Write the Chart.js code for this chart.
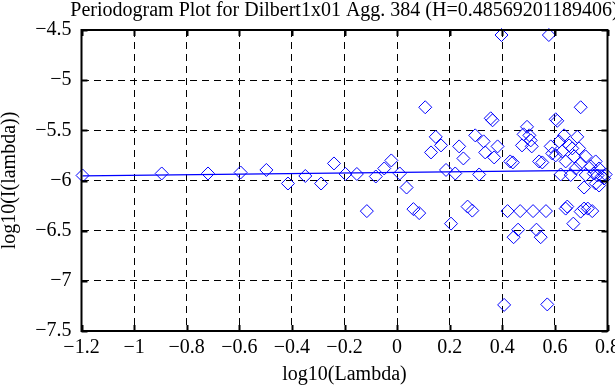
<!DOCTYPE html>
<html>
<head>
<meta charset="utf-8">
<script src="https://cdn.jsdelivr.net/npm/chart.js@4/dist/chart.umd.min.js"></script>
<style>
  body { margin: 0; background: #fff; }
  canvas { display: block; }
</style>
</head>
<body>
<canvas id="pgram" width="615" height="385"></canvas>
<script>
// log10 of frequency vs log10 of periodogram
var logLambda = [
  -1.196, -0.895, -0.719, -0.595, -0.497, -0.415, -0.349, -0.289, -0.240, -0.196,
  -0.153, -0.115, -0.081, -0.049, -0.022, 0.010, 0.036, 0.062, 0.084, 0.107,
  0.129, 0.147, 0.167, 0.186, 0.205, 0.221, 0.236, 0.252, 0.268, 0.286,
  0.297, 0.312, 0.329, 0.335, 0.356, 0.363, 0.369, 0.382, 0.397, 0.407,
  0.420, 0.430, 0.440, 0.443, 0.460, 0.468, 0.475, 0.481, 0.494, 0.503,
  0.508, 0.517, 0.512, 0.530, 0.540, 0.546, 0.552, 0.566, 0.571, 0.577,
  0.584, 0.590, 0.603, 0.609, 0.603, 0.616, 0.622, 0.628, 0.635, 0.641,
  0.641, 0.647, 0.654, 0.660, 0.666, 0.670, 0.673, 0.679, 0.685, 0.692,
  0.698, 0.698, 0.698, 0.711, 0.711, 0.717, 0.717, 0.725, 0.736, 0.742,
  0.748, 0.755, 0.755, 0.762, 0.768, 0.768, 0.778, 0.787, 0.793
];
var logI = [
  -5.95, -5.93, -5.93, -5.92, -5.895, -6.03, -5.955, -6.03, -5.83, -5.935,
  -5.935, -6.305, -5.96, -5.88, -5.80, -5.93, -6.07, -6.285, -6.325, -5.27,
  -5.72, -5.565, -5.65, -5.895, -6.43, -5.93, -5.66, -5.78, -6.26, -6.30,
  -5.55, -5.94, -5.61, -5.72, -5.38, -5.40, -5.77, -5.66, -4.55, -7.24,
  -6.305, -5.81, -5.82, -6.565, -6.49, -6.305, -5.65, -5.54, -5.465, -5.55,
  -5.60, -6.305, -5.66, -6.49, -5.81, -6.565, -5.82, -6.305, -7.235, -4.55,
  -5.66, -5.73, -5.39, -5.405, -5.75, -5.61, -5.94, -5.71, -5.55, -5.81,
  -6.28, -6.26, -5.65, -5.945, -5.68, -6.43, -5.76, -5.88, -5.565, -5.68,
  -5.27, -5.83, -6.31, -6.28, -6.07, -5.76, -5.945, -6.28, -5.86, -6.305,
  -5.93, -5.81, -6.03, -5.95, -5.88, -6.05, -5.96, -5.98, -5.94
];
// fitted line (slope = 1 - 2H)
var fitX = [-1.196, 0.795];
var fitY = [-5.953, -5.896];

var titleText = 'Periodogram Plot for Dilbert1x01 Agg. 384 (H=0.48569201189406)';
var serif = '"Liberation Serif", "DejaVu Serif", serif';
var blue = '#0000ff';

function fmt(v) {
  var r = Math.round(v * 10) / 10;
  return (r < 0 ? '\u2212' : '') + Math.abs(r);
}

var framePlugin = {
  id: 'frame',
  afterDraw: function(chart) {
    var ctx = chart.ctx, a = chart.chartArea;
    ctx.save();
    ctx.strokeStyle = '#000';
    ctx.lineWidth = 2;
    // inward tick marks
    var xs = chart.scales.x, ys = chart.scales.y;
    xs.ticks.forEach(function(t) {
      var px = Math.round(xs.getPixelForValue(t.value)) + 0.5;
      ctx.beginPath();
      ctx.moveTo(px, a.bottom); ctx.lineTo(px, a.bottom - 6);
      ctx.moveTo(px, a.top); ctx.lineTo(px, a.top + 6);
      ctx.stroke();
    });
    ys.ticks.forEach(function(t) {
      var py = Math.round(ys.getPixelForValue(t.value)) + 0.5;
      ctx.beginPath();
      ctx.moveTo(a.left, py); ctx.lineTo(a.left + 6, py);
      ctx.moveTo(a.right, py); ctx.lineTo(a.right - 6, py);
      ctx.stroke();
    });
    ctx.strokeRect(a.left, a.top, a.right - a.left, a.bottom - a.top);
    // title, centred on the plot box
    ctx.fillStyle = '#000';
    ctx.font = '20px ' + serif;
    ctx.textAlign = 'center';
    ctx.textBaseline = 'middle';
    ctx.fillText(titleText, (a.left + a.right) / 2, 11);
    ctx.restore();
  }
};

var points = logLambda.map(function(x, i) { return {x: x, y: logI[i]}; });
var fitLine = fitX.map(function(x, i) { return {x: x, y: fitY[i]}; });

new Chart(document.getElementById('pgram'), {
  type: 'scatter',
  data: {
    datasets: [{
      data: points,
      pointStyle: 'rectRot',
      pointRadius: 6.5,
      borderColor: blue,
      backgroundColor: 'rgba(0,0,0,0)',
      pointBorderWidth: 1,
      clip: false
    }, {
      type: 'line',
      data: fitLine,
      borderColor: blue,
      borderWidth: 1.3,
      pointRadius: 0,
      fill: false
    }]
  },
  options: {
    responsive: false,
    animation: false,
    layout: { padding: { top: 30, right: 7, left: 0, bottom: 0 } },
    plugins: { legend: { display: false }, tooltip: { enabled: false } },
    scales: {
      x: {
        type: 'linear', min: -1.2, max: 0.8,
        afterFit: function(s) { s.height = 54; s.paddingRight = 0; s.paddingLeft = 0; },
        ticks: { stepSize: 0.2, callback: fmt, color: '#000', padding: 5, maxRotation: 0, autoSkip: false,
                 font: { family: serif, size: 20 } },
        grid: { color: '#000', lineWidth: 1, drawTicks: false },
        border: { display: false, dash: [7, 5] },
        title: { display: true, text: 'log10(Lambda)', color: '#000', padding: 0,
                 font: { family: serif, size: 20, lineHeight: 1 } }
      },
      y: {
        type: 'linear', min: -7.5, max: -4.5,
        afterFit: function(s) { s.width = 81.5; },
        ticks: { stepSize: 0.5, callback: fmt, color: '#000', padding: 10,
                 font: { family: serif, size: 20 } },
        grid: { color: '#000', lineWidth: 1, drawTicks: false },
        border: { display: false, dash: [7, 5] },
        title: { display: true, text: 'log10(I(lambda))', color: '#000', padding: 0,
                 font: { family: serif, size: 20, lineHeight: 1 } }
      }
    }
  },
  plugins: [framePlugin]
});
</script>
</body>
</html>
